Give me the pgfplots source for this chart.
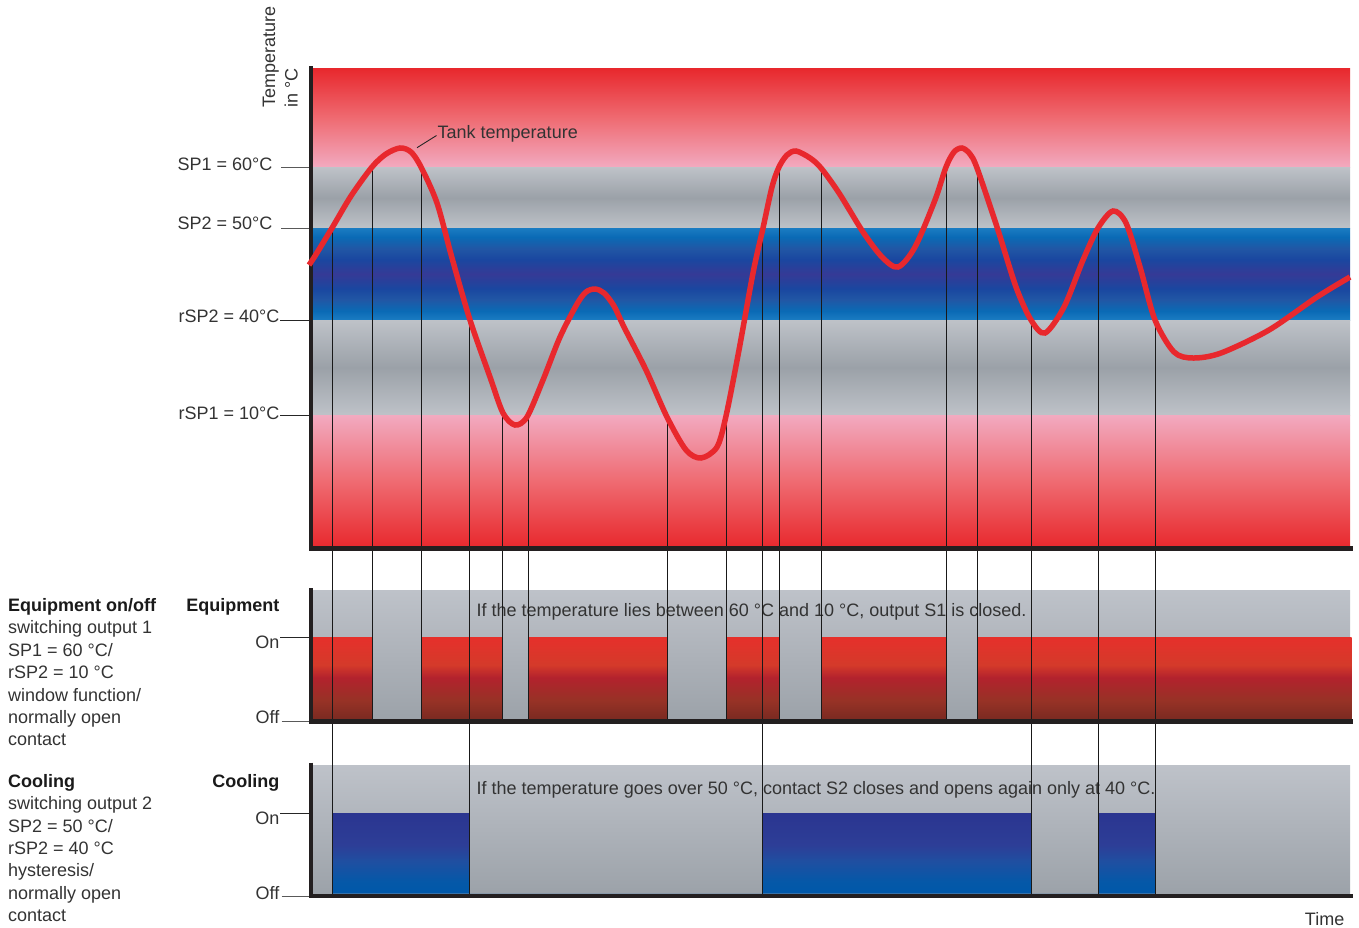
\documentclass[border=0pt]{standalone}
\usepackage{pgfplots}
\pgfplotsset{compat=1.18}
\usepackage{fontspec}
\setmainfont{Liberation Sans}

\definecolor{axblack}{HTML}{231F20}
\definecolor{curvered}{HTML}{E8282D}
\definecolor{txt}{HTML}{333333}
\definecolor{hdr}{HTML}{1A1A1A}
\definecolor{bandred}{HTML}{E8292E}
\definecolor{bandmid}{HTML}{EF6B72}
\definecolor{bandpink}{HTML}{F2AAC0}
\definecolor{grayL}{HTML}{BEC2C8}
\definecolor{grayD}{HTML}{9BA1A8}
\definecolor{panelT}{HTML}{BEC2C9}
\definecolor{panelB}{HTML}{9CA2A9}
% blue band
\definecolor{bl1}{HTML}{1B7CC2}
\definecolor{bl2}{HTML}{0A6AB5}
\definecolor{bl3}{HTML}{2157A5}
\definecolor{bl4}{HTML}{1A47A0}
\definecolor{bl5}{HTML}{353A96}
% red bar
\definecolor{rb1}{HTML}{7A2A21}
\definecolor{rb2}{HTML}{973226}
\definecolor{rb3}{HTML}{B3222D}
\definecolor{rb4}{HTML}{D43A2A}
\definecolor{rb5}{HTML}{E6302B}
% blue bar
\definecolor{bb1}{HTML}{0058A9}
\definecolor{bb2}{HTML}{0558A8}
\definecolor{bb3}{HTML}{1F4FA1}
\definecolor{bb4}{HTML}{2D3E97}
\definecolor{bb5}{HTML}{2B3590}

\pgfdeclareverticalshading{blueband}{100bp}{color(0bp)=(bl1); color(25bp)=(bl1); color(30bp)=(bl2); color(36bp)=(bl3); color(42bp)=(bl4); color(50bp)=(bl5); color(58bp)=(bl4); color(64bp)=(bl3); color(70bp)=(bl2); color(75bp)=(bl1); color(100bp)=(bl1)}
\pgfdeclareverticalshading{grayband}{100bp}{color(0bp)=(grayL); color(25bp)=(grayL); color(50bp)=(grayD); color(75bp)=(grayL); color(100bp)=(grayL)}
\pgfdeclareverticalshading{redbar}{100bp}{color(0bp)=(rb1); color(25bp)=(rb1); color(36.5bp)=(rb2); color(50.5bp)=(rb3); color(58bp)=(rb4); color(75bp)=(rb5); color(100bp)=(rb5)}
\pgfdeclareverticalshading{bluebar}{100bp}{color(0bp)=(bb1); color(25bp)=(bb1); color(32.5bp)=(bb2); color(45bp)=(bb3); color(55bp)=(bb4); color(75bp)=(bb5); color(100bp)=(bb5)}

\newcommand\ff{\fontsize{18bp}{22.4bp}\selectfont}
\tikzset{
  lbl/.style={font=\ff, inner sep=0pt, text=txt},
  hd/.style={font=\ff\bfseries, inner sep=0pt, text=hdr},
  vline/.style={black!90, line width=0.9bp},
  tk/.style={black!65, line width=1bp},
}

\begin{document}
\begin{tikzpicture}
\begin{axis}[
  width=1359bp, height=927bp, scale only axis,
  xmin=0, xmax=1359, ymin=0, ymax=927, y dir=reverse,
  hide axis, clip=false,
]
% ---------- main plot bands ----------
\path[top color=bandred, bottom color=bandpink, middle color=bandmid] (axis cs:312,69) rectangle (axis cs:1350,167.5);
\shade[shading=grayband] (axis cs:312,167.5) rectangle (axis cs:1350,228);
\shade[shading=blueband] (axis cs:312,228) rectangle (axis cs:1350,320);
\shade[shading=grayband] (axis cs:312,320) rectangle (axis cs:1350,415);
\path[top color=bandpink, bottom color=bandred, middle color=bandmid] (axis cs:312,415) rectangle (axis cs:1350,546.5);

% ---------- panel backgrounds ----------
\path[top color=panelT, bottom color=panelB] (axis cs:312,590) rectangle (axis cs:1350,719.5);
\path[top color=panelT, bottom color=panelB] (axis cs:312,765) rectangle (axis cs:1350,893.5);

% ---------- Equipment output S1 (On = 637, Off = 719.5) ----------
\addplot[draw=none, shade, shading=redbar, forget plot] coordinates {
(312.5,719.5) (312.5,637) (372.3,637) (372.3,719.5)
(421.3,719.5) (421.3,637) (502.3,637) (502.3,719.5)
(528,719.5) (528,637) (667.3,637) (667.3,719.5)
(726.7,719.5) (726.7,637) (779.3,637) (779.3,719.5)
(821,719.5) (821,637) (946.3,637) (946.3,719.5)
(977.3,719.5) (977.3,637) (1351.5,637) (1351.5,719.5)};

% ---------- Cooling output S2 (On = 813, Off = 893.5) ----------
\addplot[draw=none, shade, shading=bluebar, forget plot] coordinates {
(332.3,893.5) (332.3,813) (469.3,813) (469.3,893.5)
(762.7,893.5) (762.7,813) (1031.7,813) (1031.7,893.5)
(1098.3,893.5) (1098.3,813) (1155.7,813) (1155.7,893.5)};

% ---------- panel texts ----------
\node[lbl, anchor=base west] at (axis cs:476.5,616) {If the temperature lies between 60 °C and 10 °C, output S1 is closed.};
\node[lbl, anchor=base west] at (axis cs:476.5,794) {If the temperature goes over 50 °C, contact S2 closes and opens again only at 40 °C.};

% ---------- switching lines ----------
\addplot[vline, forget plot] coordinates {(332.3,228) (332.3,893.5)};
\addplot[vline, forget plot] coordinates {(469.3,320) (469.3,893.5)};
\addplot[vline, forget plot] coordinates {(762.7,228) (762.7,893.5)};
\addplot[vline, forget plot] coordinates {(1031.7,320) (1031.7,893.5)};
\addplot[vline, forget plot] coordinates {(1098.3,228) (1098.3,893.5)};
\addplot[vline, forget plot] coordinates {(1155.7,320) (1155.7,893.5)};
\addplot[vline, forget plot] coordinates {(372.3,167.5) (372.3,719.5)};
\addplot[vline, forget plot] coordinates {(421.3,167.5) (421.3,719.5)};
\addplot[vline, forget plot] coordinates {(502.3,415) (502.3,719.5)};
\addplot[vline, forget plot] coordinates {(528,415) (528,719.5)};
\addplot[vline, forget plot] coordinates {(667.3,415) (667.3,719.5)};
\addplot[vline, forget plot] coordinates {(726.7,415) (726.7,719.5)};
\addplot[vline, forget plot] coordinates {(779.3,167.5) (779.3,719.5)};
\addplot[vline, forget plot] coordinates {(821,167.5) (821,719.5)};
\addplot[vline, forget plot] coordinates {(946.3,167.5) (946.3,719.5)};
\addplot[vline, forget plot] coordinates {(977.3,167.5) (977.3,719.5)};

% ---------- axis lines ----------
\draw[axblack, line width=4.5bp] (axis cs:311.2,66.5) -- (axis cs:311.2,548.5) -- (axis cs:1352.5,548.5);
\draw[axblack, line width=4.5bp] (axis cs:311.2,588) -- (axis cs:311.2,721.3) -- (axis cs:1352.5,721.3);
\draw[axblack, line width=4.5bp] (axis cs:311.2,762.5) -- (axis cs:311.2,895.8) -- (axis cs:1352.5,895.8);

% ---------- tank temperature curve ----------
\addplot[smooth, color=curvered, line width=5.5bp, forget plot] coordinates {
(309,265) (315,256) (332,228) (351,196) (372,167) (386,154) (400,148) (411,152)
(421,167) (437,203) (452,258) (470,320) (490,377) (503,413) (515,425) (527,417)
(543,380) (560,337) (577,304) (586,292) (595,289) (604,293) (614,306) (624,327)
(646,370) (667,417) (686,450) (701,458) (717,447) (726,416) (739,350) (753,273)
(763,228) (772,187) (779,167) (787,155) (796,151) (810,158) (821,168) (839,193)
(863,232) (882,257) (898,267) (915,247) (935,200) (946,167) (954,152) (962,148)
(970,154) (977,168) (997,227) (1016,287) (1031,320) (1045,333) (1064,307)
(1083,260) (1098,228) (1113,211) (1126,223) (1140,267) (1155,320) (1174,352)
(1193,358) (1221,353) (1269,330) (1317,297) (1350,277)};

% ---------- labels main plot ----------
\node[lbl, rotate=90, anchor=base west] at (axis cs:275,108) {Temperature};
\node[lbl, rotate=90, anchor=base west] at (axis cs:297.5,108) {in °C};
\node[lbl, anchor=base west] at (axis cs:437.5,138.3) {Tank temperature};
\draw[black!85, line width=0.9bp] (axis cs:417,147.7) -- (axis cs:436.5,135.5);

\node[lbl, anchor=base east] at (axis cs:272.5,170.5) {SP1 = 60°C};
\draw[tk] (axis cs:281,167.5) -- (axis cs:309,167.5);
\node[lbl, anchor=base east] at (axis cs:272.5,229.2) {SP2 = 50°C};
\draw[tk] (axis cs:281,228) -- (axis cs:309,228);
\node[lbl, anchor=base east] at (axis cs:279.5,322.6) {rSP2 = 40°C};
\draw[tk, black!85] (axis cs:280,320.3) -- (axis cs:309,320.3);
\node[lbl, anchor=base east] at (axis cs:279.5,419.3) {rSP1 = 10°C};
\draw[tk, black!85] (axis cs:280,415) -- (axis cs:309,415);

% ---------- panel labels ----------
\node[hd, anchor=base east] at (axis cs:279.5,611.5) {Equipment};
\node[lbl, anchor=base east] at (axis cs:279.5,648.2) {On};
\draw[tk, black!85] (axis cs:280,637.3) -- (axis cs:309,637.3);
\node[lbl, anchor=base east] at (axis cs:279.5,723.3) {Off};
\draw[tk] (axis cs:281.5,721.5) -- (axis cs:309,721.5);

\node[hd, anchor=base east] at (axis cs:279.5,787.2) {Cooling};
\node[lbl, anchor=base east] at (axis cs:279.5,824.5) {On};
\draw[tk, black!85] (axis cs:280,813.5) -- (axis cs:309,813.5);
\node[lbl, anchor=base east] at (axis cs:279.5,899.2) {Off};
\draw[tk] (axis cs:281.5,896) -- (axis cs:309,896);

% ---------- left descriptions ----------
\node[hd, anchor=base west] at (axis cs:8,611.5) {Equipment on/off};
\node[lbl, anchor=base west] at (axis cs:8,633.9) {switching output 1};
\node[lbl, anchor=base west] at (axis cs:8,656.3) {SP1 = 60 °C/};
\node[lbl, anchor=base west] at (axis cs:8,678.7) {rSP2 = 10 °C};
\node[lbl, anchor=base west] at (axis cs:8,701.1) {window function/};
\node[lbl, anchor=base west] at (axis cs:8,723.5) {normally open};
\node[lbl, anchor=base west] at (axis cs:8,745.9) {contact};

\node[hd, anchor=base west] at (axis cs:8,787.2) {Cooling};
\node[lbl, anchor=base west] at (axis cs:8,809.6) {switching output 2};
\node[lbl, anchor=base west] at (axis cs:8,832) {SP2 = 50 °C/};
\node[lbl, anchor=base west] at (axis cs:8,854.4) {rSP2 = 40 °C};
\node[lbl, anchor=base west] at (axis cs:8,876.8) {hysteresis/};
\node[lbl, anchor=base west] at (axis cs:8,899.2) {normally open};
\node[lbl, anchor=base west] at (axis cs:8,921.6) {contact};

\node[lbl, anchor=base east] at (axis cs:1344.5,925) {Time};

% bounding box
\path (axis cs:0,0) rectangle (axis cs:1359,927);
\end{axis}
\end{tikzpicture}
\end{document}
